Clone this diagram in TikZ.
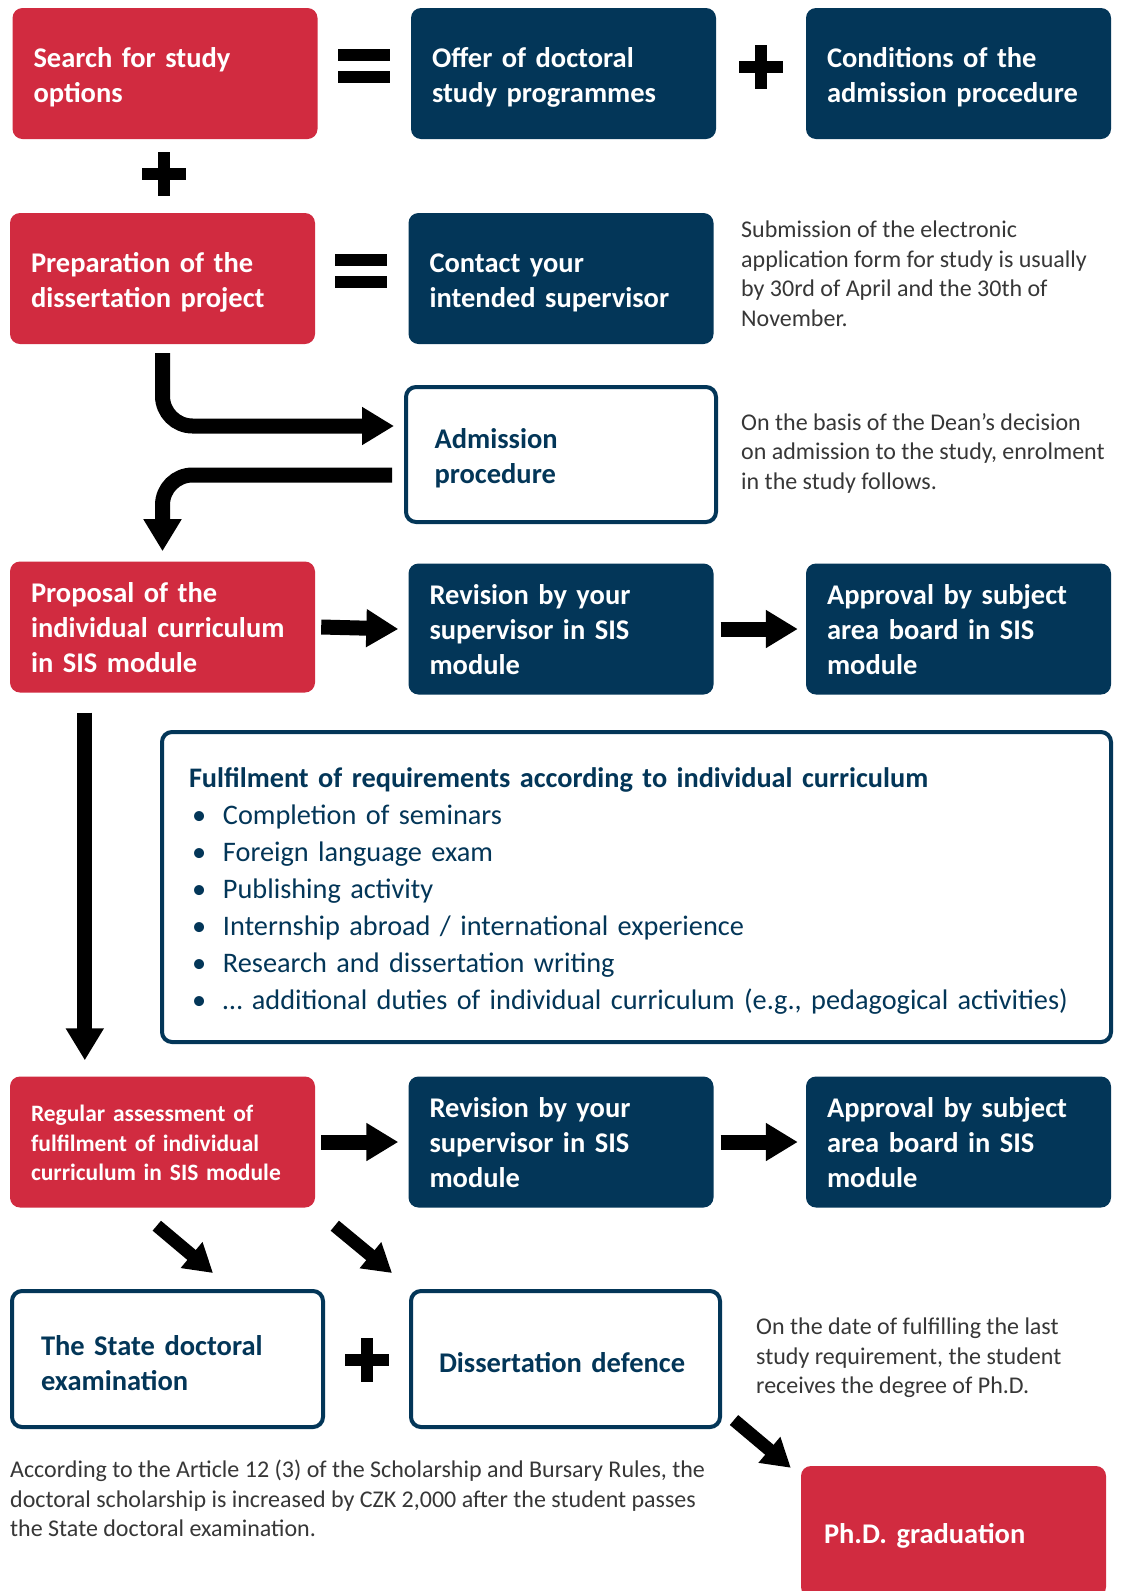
\documentclass[tikz,border=0pt]{standalone}
\usepackage{fontspec}
\setmainfont{Carlito}
\usetikzlibrary{arrows.meta,calc}
\definecolor{cred}{RGB}{209,43,64}
\definecolor{cnavy}{RGB}{3,54,88}
\definecolor{cgray}{RGB}{55,55,55}
\newcommand\tup[1]{\rule{0pt}{#1pt}}
\tikzset{
  plussign/.pic={\fill[black] (-22,-6) rectangle (22,6); \fill[black] (-6,-22) rectangle (6,22);},
  eqsign/.pic={\fill[black] (-26,-17) rectangle (26,-5); \fill[black] (-26,5) rectangle (26,17);}
}
\begin{document}
\begin{tikzpicture}[x=1pt,y=-1pt,
  box/.style={rectangle, rounded corners=10pt, minimum width=305pt, minimum height=131pt,
    inner xsep=21pt, inner ysep=4pt, text width=263pt, align=left,
    font=\bfseries\fontsize{28.5}{35}\selectfont},
  redbox/.style={box, fill=cred, text=white},
  navybox/.style={box, fill=cnavy, text=white},
  outbox/.style={box, draw=cnavy, line width=4pt, fill=white, text=cnavy,
    inner xsep=28pt, text width=253pt, minimum width=309pt, minimum height=135pt},
  note/.style={anchor=north west, align=left, text=cgray,
    font=\fontsize{24}{29.5}\selectfont, inner sep=0pt},
  arr/.style={line width=15pt, -{Triangle[length=32pt,width=36pt]}},
  darr/.style={line width=13pt, -{Triangle[length=28pt,width=32pt]}}
]
\path[use as bounding box, clip] (0,0) rectangle (1122,1591);
\fill[white] (0,0) rectangle (1122,1591);

% row 1
\node[redbox] (search) at (165,73.5) {\tup{28}Search for study\\options};
\node[navybox] (offer) at (563.5,73.5) {\tup{28}Offer of doctoral\\study programmes};
\node[navybox] (cond) at (958.5,73.5) {\tup{28}Conditions of the\\admission procedure};
\pic at (364,66) {eqsign};
\pic at (761,67) {plussign};
\pic at (164,174) {plussign};

% row 2
\node[redbox] (prep) at (162.5,278.5) {\tup{28}Preparation of the\\dissertation project};
\node[navybox] (contact) at (561,278.5) {\tup{28}Contact your\\intended supervisor};
\pic at (361,271) {eqsign};
\node[note] (note1) at (741,221) {Submission of the electronic\\application form for study is usually\\by 30rd of April and the 30th of\\November.};

% admission
\node[outbox, minimum width=310pt] (adm) at (561,454.5) {\tup{28}Admission\\procedure};
\node[note] (note2) at (741,413) {On the basis of the Dean’s decision\\on admission to the study, enrolment\\in the study follows.};
\draw[arr, rounded corners=30pt] ($(prep.south)+(0,9)$) |- ($(adm.west)+(-10,-28.5)$);
\draw[arr, rounded corners=30pt] ($(adm.west)+(-12,20.5)$) -| ($(prep.south)+(0,207)$);

% row 3
\node[redbox] (prop) at (162.5,627) {\tup{22}Proposal of the\\individual curriculum\\in SIS module};
\node[navybox] (rev1) at (561,629) {\tup{22}Revision by your\\supervisor in SIS\\module};
\node[navybox] (appr1) at (958.5,629) {\tup{22}Approval by subject\\area board in SIS\\module};
\draw[arr] ([xshift=6pt]prop.east) -- ([xshift=-10pt]rev1.west);
\draw[arr] ([xshift=7pt]rev1.east) -- ([xshift=-8pt]appr1.west);

% fulfilment
\node[rectangle, rounded corners=10pt, draw=cnavy, line width=4pt, fill=white, text=cnavy,
  minimum width=949pt, minimum height=310pt, inner xsep=27pt, text width=895pt, align=left,
  font=\fontsize{28.3}{37}\selectfont] (ful) at (636.5,887)
  {\tup{28}{\bfseries Fulfilment of requirements according to individual curriculum}\\
   \hspace*{3pt}\makebox[31pt][l]{•}Completion of seminars\\
   \hspace*{3pt}\makebox[31pt][l]{•}Foreign language exam\\
   \hspace*{3pt}\makebox[31pt][l]{•}Publishing activity\\
   \hspace*{3pt}\makebox[31pt][l]{•}Internship abroad / international experience\\
   \hspace*{3pt}\makebox[31pt][l]{•}Research and dissertation writing\\
   \hspace*{3pt}\makebox[31pt][l]{•}… additional duties of individual curriculum (e.g., pedagogical activities)};

% row 4
\node[redbox, font=\bfseries\fontsize{23.5}{29.5}\selectfont] (reg) at (162.5,1142) {\tup{19}Regular assessment of\\fulfilment of individual\\curriculum in SIS module};
\node[navybox] (rev2) at (561,1142) {\tup{22}Revision by your\\supervisor in SIS\\module};
\node[navybox] (appr2) at (958.5,1142) {\tup{22}Approval by subject\\area board in SIS\\module};
\draw[arr] ($(prop.south west)+(75,20)$) -- ($(reg.north west)+(75,-16)$);
\draw[arr] ([xshift=6pt]reg.east) -- ([xshift=-10pt]rev2.west);
\draw[arr] ([xshift=7pt]rev2.east) -- ([xshift=-8pt]appr2.west);

% row 5
\node[outbox, minimum width=311pt, minimum height=136pt] (state) at (167.5,1359) {\tup{28}The State doctoral\\examination};
\node[outbox, minimum width=309pt, minimum height=136pt] (def) at (565.5,1359) {\tup{28}Dissertation defence};
\pic at (367,1360) {plussign};
\draw[darr] ($(reg.south west)+(147,18)$) -- ($(state.north west)+(203,-16)$);
\draw[darr] ($(reg.south west)+(325,18)$) -- ($(def.north west)+(-17,-16)$);
\node[note] (note3) at (756,1318) {On the date of fulfilling the last\\study requirement, the student\\receives the degree of Ph.D.};
\node[note] (note4) at (10,1460) {According to the Article 12 (3) of the Scholarship and Bursary Rules, the\\doctoral scholarship is increased by CZK 2,000 after the student passes\\the State doctoral examination.};
\node[redbox, inner xsep=23pt, text width=259pt] (phd) at (953.5,1531.5) {\tup{28}Ph.D. graduation};
\draw[darr] ($(def.south east)+(12,-9)$) -- ($(phd.north west)+(-10,2)$);
\end{tikzpicture}
\end{document}
